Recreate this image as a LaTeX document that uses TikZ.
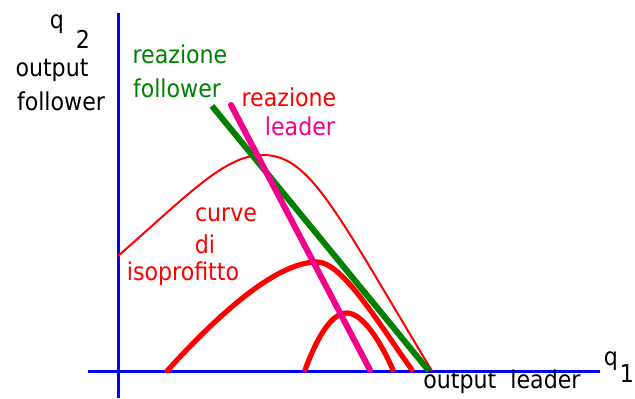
\documentclass[tikz,border=0pt]{standalone}
\usepackage{fontspec}
\setmainfont{DejaVu Sans Condensed}
\definecolor{axblue}{RGB}{0,0,255}
\definecolor{rgreen}{RGB}{0,128,0}
\definecolor{rpink}{RGB}{245,0,140}
\definecolor{rred}{RGB}{255,0,0}
\begin{document}
\begin{tikzpicture}[x=0.5pt,y=-0.5pt,
  lbl/.style={anchor=base,inner sep=0pt,font=\fontsize{12.3}{14}\selectfont},
  axis/.style={draw=axblue,line width=1.5pt},
  thinred/.style={draw=rred,line width=1pt},
  thickred/.style={draw=rred,line width=2.6pt,line cap=round},
  reac/.style={line width=3pt}]
\useasboundingbox (0,0) rectangle (635,398);
% axes
\coordinate (ytop) at (118,13);
\coordinate (ybot) at (118,398);
\coordinate (xl) at (88,371);
\coordinate (xr) at (600,371);
\draw[axis] (ytop) -- (ybot);
\draw[axis] (xl) -- (xr);
% isoprofit curves
\coordinate (t0) at (118,256);
\coordinate (t1) at (263,155);
\coordinate (t2) at (432,371);
\draw[thinred] (t0) .. controls (190,193) and (225,155) .. (t1)
  .. controls (310,155) and (335,210) .. (t2);
\coordinate (m0) at (167,371);
\coordinate (m1) at (317,262);
\coordinate (m2) at (412,370);
\draw[thickred] (m0) .. controls (215,318) and (275,262) .. (m1)
  .. controls (342,262) and (377,321) .. (m2);
\coordinate (s0) at (305,370);
\coordinate (s1) at (347,313);
\coordinate (s2) at (393,370);
\draw[thickred] (s0) .. controls (318,335) and (332,313) .. (s1)
  .. controls (362,313) and (380,340) .. (s2);
% reaction functions
\coordinate (gA) at (212,106);
\coordinate (gB) at (429,371);
\coordinate (pA) at (231,105);
\coordinate (pB) at (370,370);
\draw[reac,rgreen] (gA) -- (gB);
\draw[reac,rpink,line cap=round] (pA) -- (pB);
% labels
\node[lbl] (q2) at (57,28) {q};
\node[lbl] (q2s) at (83,48) {2};
\node[lbl] (of1) at (52,76) {output};
\node[lbl] (of2) at (61,110) {follower};
\node[lbl,text=rgreen] (rf1) at (180,63) {reazione};
\node[lbl,text=rgreen] (rf2) at (177,97) {follower};
\node[lbl,text=rred] (rl1) at (289,106) {reazione};
\node[lbl,text=rpink] (rl2) at (300,135) {leader};
\node[lbl,text=rred] (c1) at (226,221) {curve};
\node[lbl,text=rred] (c2) at (205,253) {di};
\node[lbl,text=rred] (c3) at (183,280) {isoprofitto};
\node[lbl] (ol) at (502,388) {output\ \ leader};
\node[lbl] (q1) at (611,365) {q};
\node[lbl] (q1s) at (627,382) {1};
\end{tikzpicture}
\end{document}
